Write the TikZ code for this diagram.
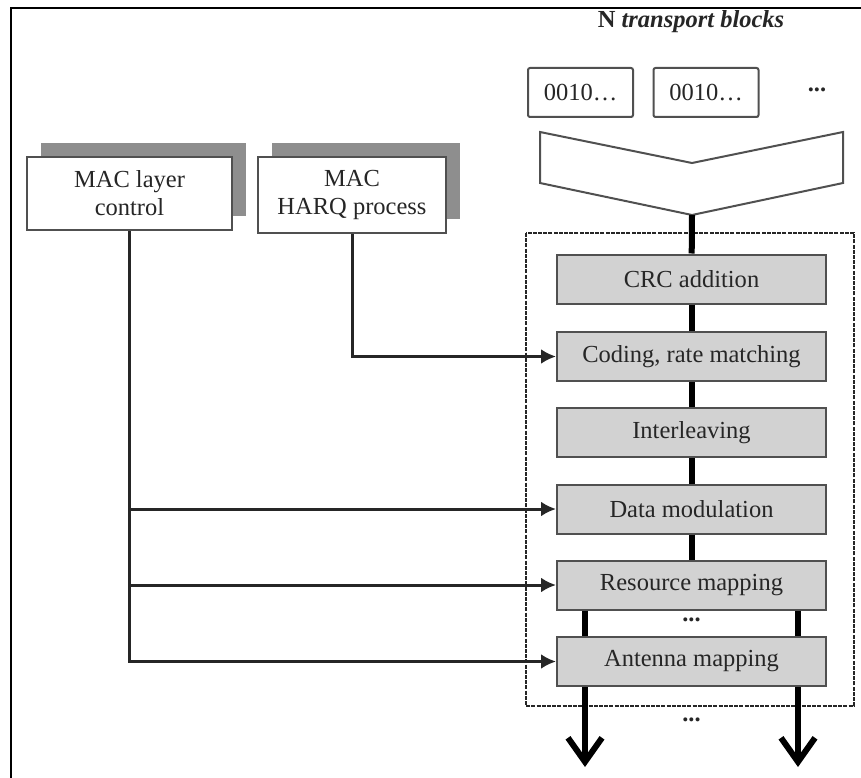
\documentclass[tikz,border=0pt]{standalone}
\usepackage{fontspec}
\setmainfont{Liberation Serif}
\usetikzlibrary{arrows.meta,shadows}
\definecolor{boxline}{HTML}{505050}
\definecolor{procfill}{HTML}{D2D2D2}
\definecolor{shadowgray}{HTML}{8E8E8E}
\definecolor{ink}{HTML}{262626}

\begin{document}
\begin{tikzpicture}[x=1pt,y=-1pt,
  every node/.style={font=\fontsize{24.5}{28}\selectfont, text=ink},
  proc/.style={draw=boxline, fill=procfill, line width=2pt,
    minimum width=269pt, minimum height=49pt, inner sep=0pt},
  bits/.style={draw=boxline, fill=white, line width=2pt, rounded corners=2pt,
    minimum width=105pt, minimum height=49pt, inner sep=0pt},
  mac/.style={draw=boxline, fill=white, line width=2pt, align=center, inner sep=0pt,
    general shadow={shadow xshift=14pt, shadow yshift=14pt, fill=shadowgray}},
  bus/.style={line width=6pt, draw=black},
  ctrl/.style={line width=3pt, draw=ink, -{Latex[length=15pt,width=15pt]}},
  outarrow/.style={line width=6pt, draw=black, -{Straight Barb[length=24pt,width=34pt]}},
]
\useasboundingbox (0,0) rectangle (861,778);

% outer frame
\draw[line width=2.5pt] (11,778) -- (11,8) -- (861,8);

% transport blocks
\node (title) at (691,22) {\textbf{N \textit{transport blocks}}};
\node[bits] (tb1) at (580.5,92.5) {0010…};
\node[bits] (tb2) at (706,92.5) {0010…};
\node (tbdots) at (817,90) {\textbf{...}};

% merging chevron
\coordinate (tip) at (692,215);
\draw[draw=boxline, line width=2pt, fill=white]
  (540,132) -- (692,163) -- (843,132) -- (843,183) -- (tip) -- (540,183) -- cycle;

% physical layer processing chain
\draw[ink, line width=2.5pt, dash pattern=on 4pt off 1.2pt] (526,233) rectangle (854,706);
\node[proc] (crc) at (691.5,279) {CRC addition};
\node[proc] (code) at (691.5,356.5) {Coding, rate matching};
\node[proc] (intl) at (691.5,432.5) {Interleaving};
\node[proc] (dmod) at (691.5,509) {Data modulation};
\node[proc] (rmap) at (691.5,585) {Resource mapping};
\node[proc] (amap) at (691.5,661.5) {Antenna mapping};

\draw[bus] (tip) -- (crc);
\draw[bus] (crc) -- (code);
\draw[bus] (code) -- (intl);
\draw[bus] (intl) -- (dmod);
\draw[bus] (dmod) -- (rmap);
\draw[bus] ([xshift=-106.5pt]rmap.south) -- ([xshift=-106.5pt]amap.north);
\draw[bus] ([xshift=106.5pt]rmap.south) -- ([xshift=106.5pt]amap.north);
\node (mdots) at (691.5,620) {\textbf{...}};

% antenna outputs
\coordinate (out1) at (585,767);
\coordinate (out2) at (798,767);
\draw[outarrow] ([xshift=-106.5pt]amap.south) -- (out1);
\draw[outarrow] ([xshift=106.5pt]amap.south) -- (out2);
\node (odots) at (691.5,720) {\textbf{...}};

% MAC entities
\node[mac, minimum width=205pt, minimum height=73pt] (mlc) at (129.5,193.5) {MAC layer\\control};
\node[mac, minimum width=188pt, minimum height=76pt] (harq) at (352,195) {MAC\\HARQ process};

% control connections
\draw[ctrl] (harq.south) |- (code.west);
\draw[ctrl] (mlc.south) |- (amap.west);
\draw[ctrl] (mlc.south |- dmod.west) -- (dmod.west);
\draw[ctrl] (mlc.south |- rmap.west) -- (rmap.west);
\end{tikzpicture}
\end{document}
